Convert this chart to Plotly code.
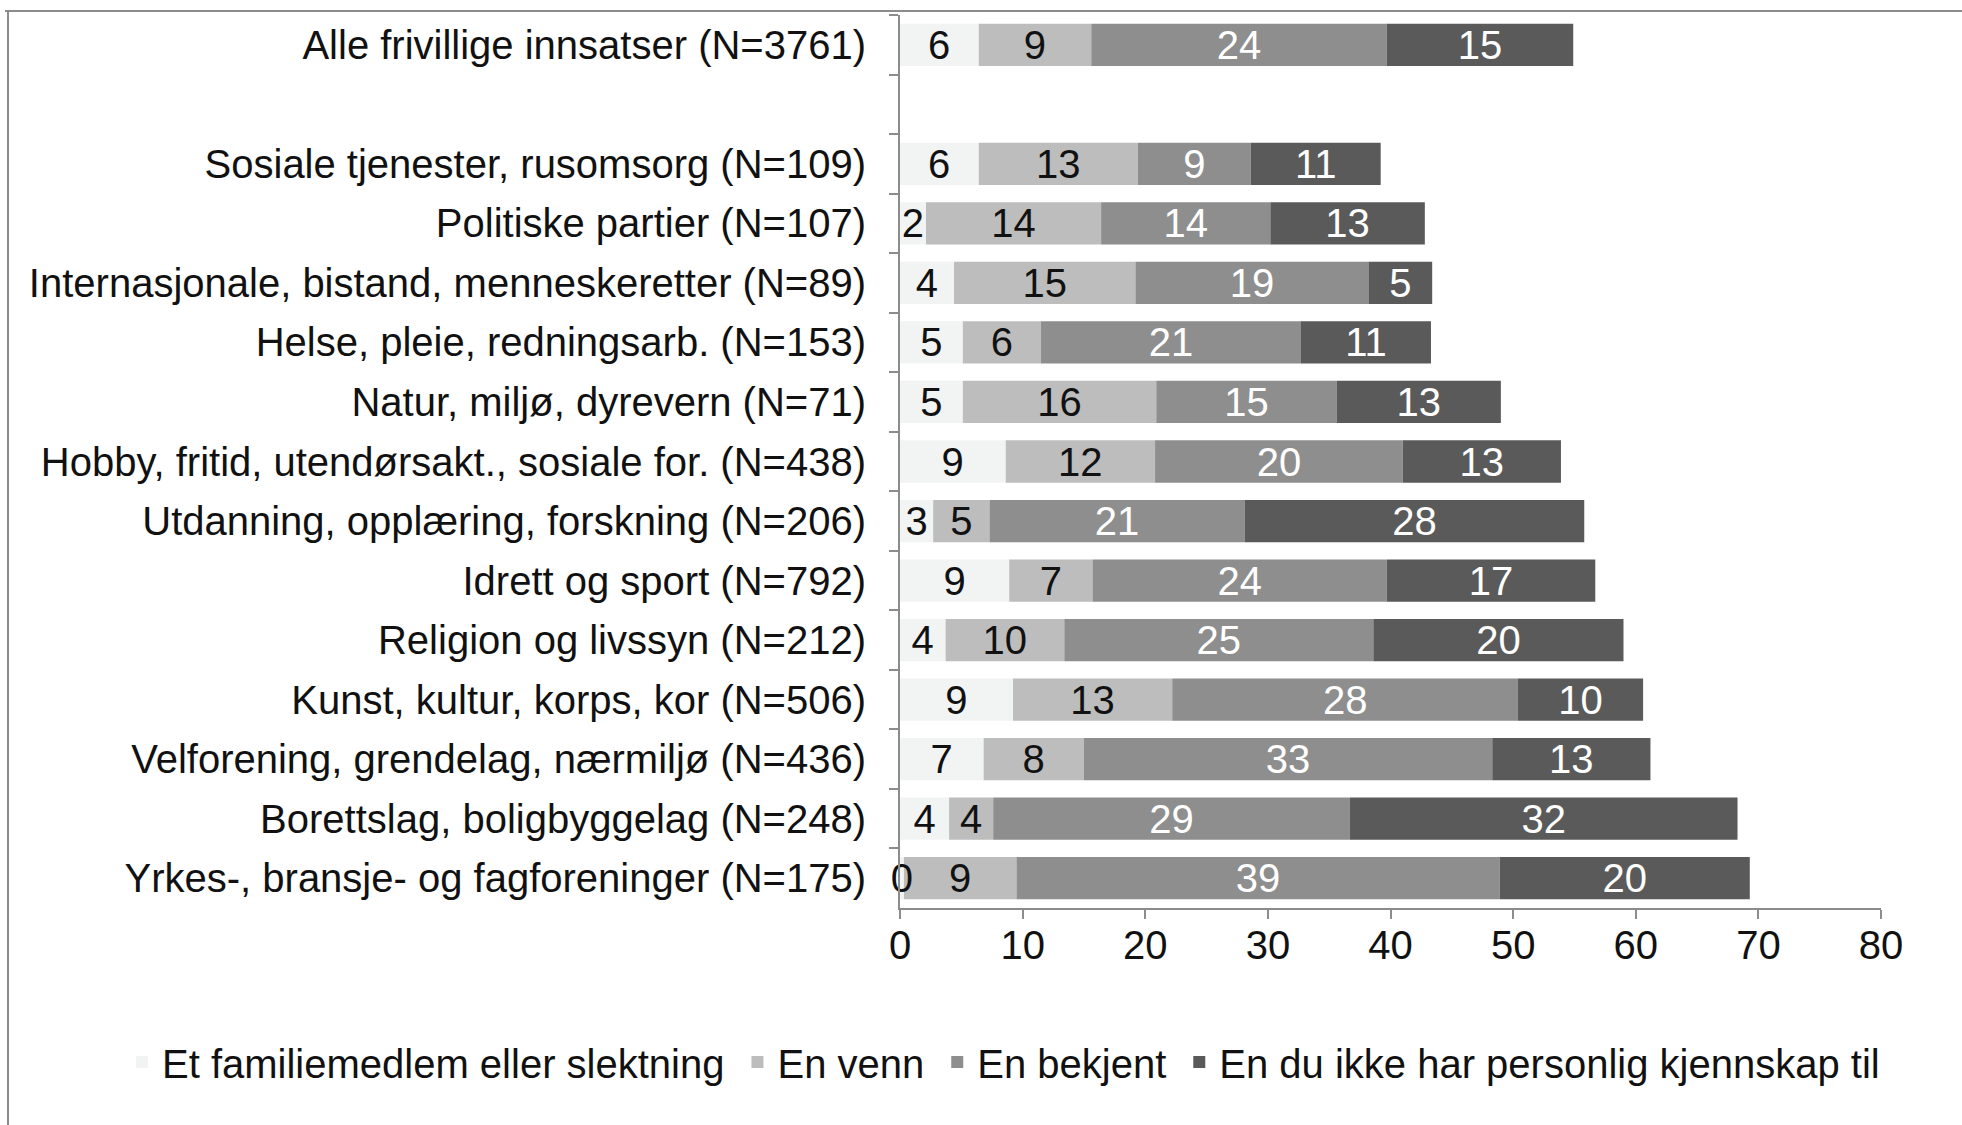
import plotly.graph_objects as go

categories = [
    "Alle frivillige innsatser (N=3761)",
    " ",
    "Sosiale tjenester, rusomsorg (N=109)",
    "Politiske partier (N=107)",
    "Internasjonale, bistand, menneskeretter (N=89)",
    "Helse, pleie, redningsarb. (N=153)",
    "Natur, miljø, dyrevern (N=71)",
    "Hobby, fritid, utendørsakt., sosiale for. (N=438)",
    "Utdanning, opplæring, forskning (N=206)",
    "Idrett og sport (N=792)",
    "Religion og livssyn (N=212)",
    "Kunst, kultur, korps, kor (N=506)",
    "Velforening, grendelag, nærmiljø (N=436)",
    "Borettslag, boligbyggelag (N=248)",
    "Yrkes-, bransje- og fagforeninger (N=175)",
]

familie = [6.4, None, 6.4, 2.1, 4.4, 5.1, 5.1, 8.6, 2.7, 8.9, 3.7, 9.2, 6.8, 4.0, 0.3]
venn = [9.2, None, 13.0, 14.3, 14.8, 6.4, 15.8, 12.2, 4.6, 6.8, 9.7, 13.0, 8.2, 3.6, 9.2]
bekjent = [24.1, None, 9.2, 13.8, 19.0, 21.2, 14.7, 20.2, 20.8, 24.0, 25.2, 28.2, 33.3, 29.1, 39.4]
ukjent = [15.2, None, 10.6, 12.6, 5.2, 10.6, 13.4, 12.9, 27.7, 17.0, 20.4, 10.2, 12.9, 31.6, 20.4]

series_names = [
    "Et familiemedlem eller slektning",
    "En venn",
    "En bekjent",
    "En du ikke har personlig kjennskap til",
]
series_values = [familie, venn, bekjent, ukjent]
colors = ["#f2f4f4", "#bdbdbd", "#8e8e8e", "#5a5a5a"]
text_colors = ["#111111", "#111111", "#ffffff", "#ffffff"]
x_ticks = [0, 10, 20, 30, 40, 50, 60, 70, 80]

FONT = "Liberation Sans, Arial, sans-serif"
FS = 40

# stacked bases (cumulative sums of earlier series)
bases = []
running = [0.0 if v is not None else None for v in familie]
for vals in series_values:
    bases.append(list(running))
    running = [(r + v) if (r is not None and v is not None) else None
               for r, v in zip(running, vals)]

fig = go.Figure()
# draw the first series last so its small labels sit on top
draw_order = [1, 2, 3, 0]
for i in draw_order:
    fig.add_trace(go.Bar(
        y=categories, x=series_values[i], base=bases[i],
        name=series_names[i] + "\u2009", orientation="h", legendrank=i + 1,
        marker=dict(color=colors[i], line=dict(width=0)),
        texttemplate="%{x:.0f}", textposition="inside",
        insidetextanchor="middle", textangle=0, cliponaxis=False,
        textfont=dict(color=text_colors[i], size=FS, family=FONT),
        hoverinfo="skip",
    ))

W, H = 1962, 1125
L, R, T, B = 900, 1881, 15, 908
pw, ph = R - L, B - T

def px(x):
    return (x - L) / pw

def py(y):
    return (B - y) / ph

fig.update_layout(
    width=W, height=H,
    barmode="overlay", bargap=0.29,
    plot_bgcolor="white", paper_bgcolor="white",
    margin=dict(l=L, r=W - R, t=T, b=H - B, pad=0, autoexpand=False),
    font=dict(family=FONT, size=FS, color="#111111"),
    uniformtext=dict(minsize=FS, mode="show"),
    xaxis=dict(
        range=[0, 80], tickvals=x_ticks, ticks="outside", ticklen=9,
        tickwidth=2, tickcolor="#8c8c8c", showline=True, linecolor="#8c8c8c",
        linewidth=2, showgrid=False, zeroline=False,
        tickfont=dict(size=FS, color="#111111"), ticklabelstandoff=-8,
    ),
    yaxis=dict(
        categoryorder="array", categoryarray=categories, autorange="reversed",
        type="category", tickson="boundaries", ticks="outside", ticklen=9,
        tickwidth=2, tickcolor="#8c8c8c", showline=True, linecolor="#8c8c8c",
        linewidth=2, showgrid=False, zeroline=False,
        tickfont=dict(size=FS, color="#111111"), ticklabelstandoff=24,
    ),
    legend=dict(
        orientation="h", xref="paper", yref="paper",
        x=px(122), y=py(1062), xanchor="left", yanchor="middle",
        font=dict(size=FS, color="#111111"), traceorder="normal",
        itemclick=False, itemdoubleclick=False, bgcolor="rgba(0,0,0,0)",
    ),
    showlegend=True,
)

# chart-area frame (top and left edges)
fig.add_shape(type="line", xref="paper", yref="paper",
              x0=px(5), x1=px(W), y0=py(11), y1=py(11),
              line=dict(color="#8c8c8c", width=2))
fig.add_shape(type="line", xref="paper", yref="paper",
              x0=px(8), x1=px(8), y0=py(11), y1=py(H),
              line=dict(color="#8c8c8c", width=2))

fig.write_html("out.html", config={"displayModeBar": False},
               post_script="document.body.style.margin='0';")
